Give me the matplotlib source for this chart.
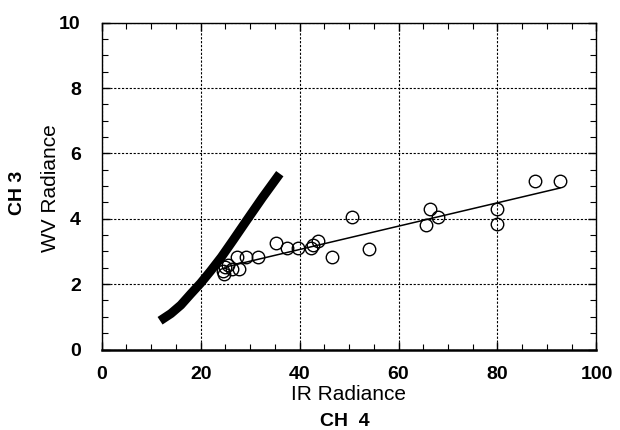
import matplotlib
matplotlib.use('Agg')
import matplotlib.pyplot as plt
from matplotlib.ticker import MultipleLocator

plt.rcParams['font.family'] = ['Liberation Sans', 'DejaVu Sans']

# Scatter points (IR radiance, WV radiance)
ir = [24.5, 24.7, 24.9, 25.6, 26.3, 27.4, 27.8, 29.2, 31.6, 35.2, 37.5,
      39.7, 42.4, 42.8, 43.8, 46.5, 50.6, 54.1, 65.5, 66.3, 68.0, 79.9,
      79.9, 87.5, 92.6]
wv = [2.40, 2.30, 2.53, 2.60, 2.45, 2.83, 2.45, 2.83, 2.83, 3.27, 3.12,
      3.12, 3.12, 3.20, 3.32, 2.83, 4.05, 3.09, 3.80, 4.30, 4.05, 4.30,
      3.83, 5.15, 5.15]

# Regression line through the points
fit_x = [24.9, 92.6]
fit_y = [2.52, 4.94]

# Thick theoretical curve
curve_x = [11.8, 14.0, 16.0, 18.0, 20.0, 22.0, 24.2, 26.5, 29.3, 32.5, 36.0]
curve_y = [0.88, 1.10, 1.36, 1.70, 2.03, 2.40, 2.83, 3.33, 3.95, 4.65, 5.38]

fig = plt.figure(figsize=(6.2, 4.3), dpi=100)
ax = fig.add_axes([0.164, 0.1872, 0.798, 0.76])

ax.set_xlim(0, 100)
ax.set_ylim(0, 10)

ax.grid(True, which='major', color='black', linestyle=(0, (2, 1.5)), linewidth=0.8)
ax.set_axisbelow(True)

ax.plot(curve_x, curve_y, color='black', linewidth=6.5, solid_capstyle='butt',
        solid_joinstyle='round')
ax.plot(fit_x, fit_y, color='black', linewidth=1.1)
ax.plot(ir, wv, linestyle='none', marker='o', markersize=9,
        markerfacecolor='none', markeredgecolor='black', markeredgewidth=1.0)

ax.xaxis.set_major_locator(MultipleLocator(20))
ax.xaxis.set_minor_locator(MultipleLocator(5))
ax.yaxis.set_major_locator(MultipleLocator(2))
ax.yaxis.set_minor_locator(MultipleLocator(0.5))
ax.tick_params(which='both', direction='in', top=True, right=True, color='black')
ax.tick_params(which='major', length=6, width=1)
ax.tick_params(which='minor', length=4, width=0.8)
ax.tick_params(axis='x', which='major', pad=12, labelsize=14)
ax.tick_params(axis='y', which='major', pad=15, labelsize=14)
for lbl in ax.get_xticklabels() + ax.get_yticklabels():
    lbl.set_fontweight('bold')

for side in ['top', 'left', 'right']:
    ax.spines[side].set_linewidth(1.0)
ax.spines['bottom'].set_linewidth(1.8)

# axis titles
fig.text(0.562, 1 - 395 / 430, 'IR Radiance', ha='center', va='center', fontsize=15)
fig.text(0.556, 1 - 421 / 430, 'CH  4', ha='center', va='center', fontsize=14,
         fontweight='bold')
fig.text(18 / 620, 1 - 193 / 430, 'CH 3', ha='center', va='center', fontsize=14,
         fontweight='bold', rotation=90)
fig.text(51 / 620, 1 - 188 / 430, 'WV Radiance', ha='center', va='center',
         fontsize=15, rotation=90)

fig.savefig('out.png', dpi=100)
